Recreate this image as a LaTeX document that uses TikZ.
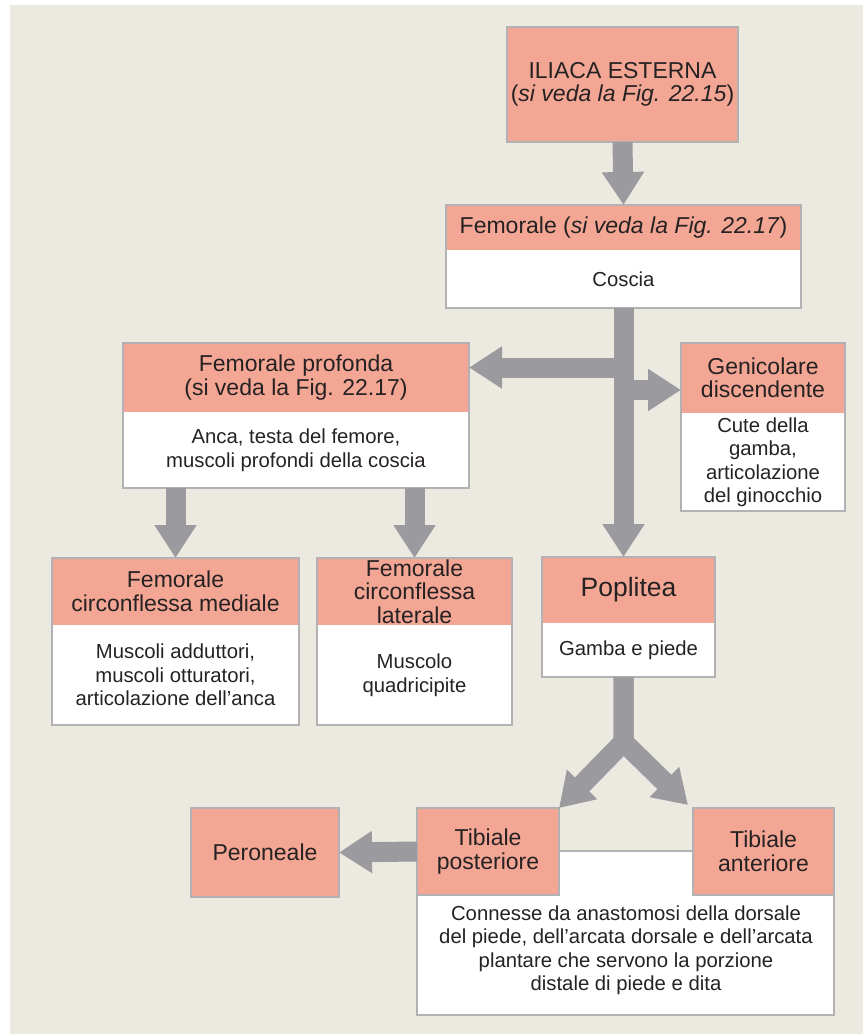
\documentclass[tikz,border=0pt]{standalone}
\usepackage{fontspec}
\setmainfont{Liberation Sans}
\usetikzlibrary{arrows.meta,calc}
\definecolor{paper}{RGB}{236,233,225}
\definecolor{salmon}{RGB}{243,166,148}
\definecolor{framegray}{RGB}{178,178,180}
\definecolor{arrowgray}{RGB}{154,154,159}
\definecolor{ink}{RGB}{38,34,35}
\begin{document}
\begin{tikzpicture}[x=1pt,y=-1pt,
  box/.style={anchor=north west, inner sep=0pt, outer sep=0pt, align=center, text=ink},
  hdr/.style={box, fill=salmon, font=\fontsize{23}{23.5}\selectfont},
  bdy/.style={box, fill=white, font=\fontsize{20.3}{23.5}\selectfont},
  bodytext/.style={inner sep=0pt, align=center, text=ink, font=\fontsize{20.3}{23.5}\selectfont},
  frame/.style={draw=framegray, line width=2.5pt},
  fat/.style={draw=arrowgray, line width=20pt, line join=miter,
              -{Triangle[length=33pt,width=40pt]}},
  fatline/.style={draw=arrowgray, line width=20pt},
]
% page and background panel
\useasboundingbox (0,0) rectangle (863,1034);
\fill[white] (0,0) rectangle (863,1034);
\fill[paper] (10,5) rectangle (863,1034);

% external iliac
\node[hdr, minimum width=231pt, minimum height=115pt] (ili) at (507,27)
  {ILIACA ESTERNA\\(\textit{si veda la Fig. 22.15})};
\draw[frame] (ili.north west) rectangle (ili.south east);

% femoral
\node[hdr, minimum width=355pt, minimum height=45pt] (fem) at (446,205)
  {Femorale (\textit{si veda la Fig. 22.17})};
\node[bdy, minimum width=355pt, minimum height=58pt] (femb) at (446,250) {Coscia};
\draw[frame] (fem.north west) rectangle (femb.south east);

% deep femoral
\node[hdr, minimum width=346pt, minimum height=69pt] (prof) at (123,343)
  {Femorale profonda\\(si veda la Fig. 22.17)};
\node[bdy, minimum width=346pt, minimum height=76pt] (profb) at (123,412)
  {Anca, testa del femore,\\muscoli profondi della coscia};
\draw[frame] (prof.north west) rectangle (profb.south east);

% descending genicular
\node[hdr, minimum width=164pt, minimum height=70pt] (gen) at (681,343)
  {Genicolare\\discendente};
\node[bdy, minimum width=164pt, minimum height=98pt] (genb) at (681,413)
  {Cute della\\gamba,\\articolazione\\del ginocchio};
\draw[frame] (gen.north west) rectangle (genb.south east);

% medial circumflex
\node[hdr, minimum width=247pt, minimum height=67pt] (med) at (52,558)
  {Femorale\\circonflessa mediale};
\node[bdy, minimum width=247pt, minimum height=100pt] (medb) at (52,625)
  {Muscoli adduttori,\\muscoli otturatori,\\articolazione dell’anca};
\draw[frame] (med.north west) rectangle (medb.south east);

% lateral circumflex
\node[hdr, minimum width=195pt, minimum height=67pt] (lat) at (317,558)
  {Femorale\\circonflessa\\laterale};
\node[bdy, minimum width=195pt, minimum height=100pt] (latb) at (317,625)
  {Muscolo\\quadricipite};
\draw[frame] (lat.north west) rectangle (latb.south east);

% popliteal
\node[hdr, minimum width=173pt, minimum height=66pt, font=\fontsize{26.5}{28}\selectfont] (pop) at (542,557)
  {Poplitea};
\node[bdy, minimum width=173pt, minimum height=54pt] (popb) at (542,623) {Gamba e piede};
\draw[frame] (pop.north west) rectangle (popb.south east);

% tibial arteries and their shared panel
\node[bdy, minimum width=417pt, minimum height=164pt] (tib) at (417,851) {};
\draw[frame] (tib.north west) rectangle (tib.south east);
\node[bodytext] (tibt) at (626,950)
  {Connesse da anastomosi della dorsale\\del piede, dell’arcata dorsale e dell’arcata\\plantare che servono la porzione\\distale di piede e dita};
\node[hdr, minimum width=142pt, minimum height=87pt] (tp) at (417,808)
  {Tibiale\\posteriore};
\draw[frame] (tp.north west) rectangle (tp.south east);
\node[hdr, minimum width=141pt, minimum height=87pt] (ta) at (693,808)
  {Tibiale\\anteriore};
\draw[frame] (ta.north west) rectangle (ta.south east);

% fibular
\node[hdr, minimum width=148pt, minimum height=89pt] (per) at (191,808) {Peroneale};
\draw[frame] (per.north west) rectangle (per.south east);

% connectors
\draw[fat] (ili.south) -- (fem.north);
\draw[fat] (femb.south) -- (femb.south |- pop.north);
\coordinate (jl) at (623.5,367.5);
\coordinate (jr) at (623.5,390);
\draw[fat] (jl) -- (jl -| prof.east);
\draw[fat] (jr) -- (jr -| gen.west);
\draw[fat] (profb.south -| med.north) -- (med.north);
\draw[fat] (profb.south -| lat.north) -- (lat.north);
\coordinate (fk) at (623.5,742);
\draw[fat] (popb.south -| fk) -- (fk) -- (tp.north east);
\draw[fat] (popb.south -| fk) -- (fk) -- ($(ta.north west)+(-5,-3)$);
\draw[fat] (tp.west) -- (per.east);
\end{tikzpicture}
\end{document}
